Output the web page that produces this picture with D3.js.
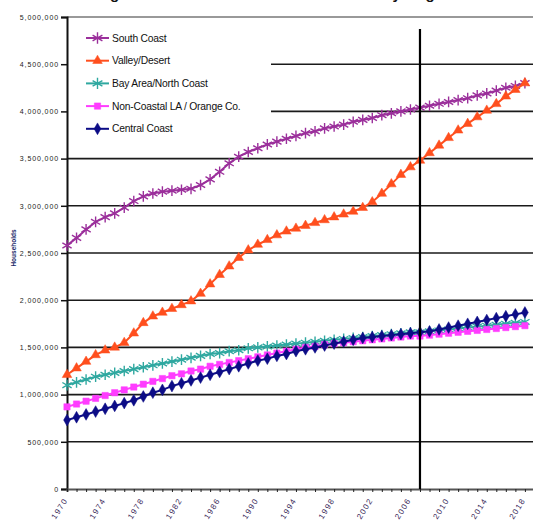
<!DOCTYPE html>
<html>
<head>
<meta charset="utf-8">
<script src="https://cdn.jsdelivr.net/npm/d3@7"></script>
<style>
  html, body { margin: 0; padding: 0; background: #fff; }
  svg { display: block; font-family: "Liberation Sans", Arial, sans-serif; }
</style>
</head>
<body>
<svg id="chart" width="533" height="526"></svg>
<script>
// Households by region, annual values (millions of households)
const years = d3.range(1970, 2019);

const southCoast = [2.58, 2.66, 2.75, 2.83, 2.88, 2.92, 2.98, 3.05, 3.10, 3.13,
  3.15, 3.16, 3.17, 3.18, 3.22, 3.28, 3.36, 3.45, 3.52, 3.57,
  3.61, 3.65, 3.68, 3.71, 3.74, 3.77, 3.79, 3.82, 3.84, 3.86,
  3.89, 3.91, 3.93, 3.96, 3.98, 4.00, 4.02, 4.04, 4.06, 4.08,
  4.10, 4.12, 4.14, 4.17, 4.19, 4.22, 4.25, 4.27, 4.30];

const valleyDesert = [1.21, 1.28, 1.35, 1.42, 1.47, 1.50, 1.55, 1.65, 1.76, 1.83,
  1.87, 1.91, 1.95, 1.99, 2.07, 2.17, 2.27, 2.36, 2.45, 2.53,
  2.59, 2.64, 2.69, 2.73, 2.76, 2.79, 2.82, 2.85, 2.88, 2.91,
  2.94, 2.98, 3.04, 3.13, 3.23, 3.33, 3.41, 3.48, 3.56, 3.64,
  3.72, 3.80, 3.87, 3.94, 4.01, 4.08, 4.16, 4.23, 4.30];

const bayArea = [1.10, 1.13, 1.16, 1.19, 1.21, 1.23, 1.25, 1.27, 1.29, 1.31,
  1.33, 1.35, 1.37, 1.39, 1.41, 1.43, 1.44, 1.46, 1.47, 1.49,
  1.50, 1.51, 1.52, 1.53, 1.54, 1.55, 1.56, 1.57, 1.58, 1.59,
  1.60, 1.61, 1.62, 1.63, 1.64, 1.65, 1.66, 1.66, 1.67, 1.68,
  1.69, 1.70, 1.71, 1.72, 1.73, 1.74, 1.75, 1.76, 1.77];

const nonCoastal = [0.87, 0.90, 0.93, 0.96, 0.99, 1.02, 1.05, 1.08, 1.11, 1.14,
  1.17, 1.20, 1.22, 1.25, 1.27, 1.30, 1.32, 1.34, 1.36, 1.38,
  1.40, 1.42, 1.44, 1.46, 1.48, 1.50, 1.51, 1.53, 1.54, 1.55,
  1.56, 1.57, 1.58, 1.59, 1.60, 1.61, 1.62, 1.62, 1.63, 1.64,
  1.65, 1.66, 1.67, 1.68, 1.69, 1.70, 1.71, 1.72, 1.73];

const centralCoast = [0.73, 0.76, 0.79, 0.82, 0.85, 0.88, 0.91, 0.94, 0.98, 1.02,
  1.05, 1.09, 1.12, 1.15, 1.18, 1.21, 1.24, 1.27, 1.30, 1.33,
  1.36, 1.38, 1.41, 1.43, 1.46, 1.48, 1.50, 1.52, 1.54, 1.56,
  1.58, 1.60, 1.61, 1.62, 1.63, 1.64, 1.65, 1.66, 1.67, 1.69,
  1.71, 1.73, 1.75, 1.77, 1.79, 1.81, 1.83, 1.85, 1.87];

const seriesNames = ["South Coast", "Valley/Desert", "Bay Area/North Coast",
  "Non-Coastal LA / Orange Co.", "Central Coast"];
const seriesValues = [southCoast, valleyDesert, bayArea, nonCoastal, centralCoast];
const seriesColors = ["#9b2f9b", "#ff4f1e", "#2fa8a0", "#ff3cff", "#0c0c86"];
const seriesSymbols = [d3.symbolAsterisk, d3.symbolTriangle, d3.symbolAsterisk, d3.symbolSquare, d3.symbolDiamond];

const yTicks = d3.range(0, 5000001, 500000);
const xLabelYears = d3.range(1970, 2019, 4);
const markerYear = 2007;

const svg = d3.select("#chart");
const plotLeft = 67, plotTop = 17, plotBottom = 489;

const x = d3.scaleLinear().domain([1970, 2020]).range([plotLeft, plotLeft + 50 * 9.54]);
const y = d3.scaleLinear().domain([0, 5000000]).range([plotBottom, plotTop]);

// Title (runs off the top edge)
svg.append("text")
  .attr("x", 96).attr("y", -1)
  .attr("textLength", 362).attr("lengthAdjust", "spacing")
  .attr("font-size", 15).attr("font-weight", "bold").attr("fill", "#111")
  .text("Figure 1: Total Number of Households by Region");

// Horizontal gridlines
svg.append("g").selectAll("line").data(yTicks.filter(d => d > 0)).join("line")
  .attr("x1", plotLeft).attr("x2", 533)
  .attr("y1", d => y(d)).attr("y2", d => y(d))
  .attr("stroke", d => d === 5000000 ? "#777" : "#1a1a1a")
  .attr("stroke-width", 1.6);

// Legend background
svg.append("rect")
  .attr("x", plotLeft + 1).attr("y", 20).attr("width", 203).attr("height", 123)
  .attr("fill", "#fff");

// Y axis
const yAxis = svg.append("g").attr("transform", `translate(${plotLeft},0)`)
  .call(d3.axisLeft(y).tickValues(yTicks).tickSize(6).tickPadding(2)
    .tickFormat(d3.format(",")));
yAxis.select(".domain").attr("stroke", "#111").attr("stroke-width", 2);
yAxis.selectAll(".tick line").attr("stroke", "#111").attr("stroke-width", 1.5);
yAxis.selectAll(".tick text")
  .attr("font-size", 7).attr("letter-spacing", 0.9).attr("fill", "#222")
  .attr("font-family", "Liberation Sans, Arial, sans-serif");

svg.append("text")
  .attr("transform", "translate(16,248) rotate(-90)")
  .attr("text-anchor", "middle").attr("font-size", 6.5).attr("font-weight", "bold")
  .attr("fill", "#1a2a6a")
  .text("Households");

// X axis
const xAxis = svg.append("g").attr("transform", `translate(0,${plotBottom})`)
  .call(d3.axisBottom(x).tickValues(d3.range(1970, 2021)).tickSize(3).tickFormat(""));
xAxis.select(".domain").attr("stroke", "#555").attr("stroke-width", 2);
xAxis.selectAll(".tick line").attr("stroke", "#222").attr("stroke-width", 1);

svg.append("g").selectAll("text").data(xLabelYears).join("text")
  .attr("transform", d => `translate(${x(d) + 1},${plotBottom + 11}) rotate(-58)`)
  .attr("text-anchor", "end")
  .attr("font-size", 8).attr("letter-spacing", 1.4).attr("fill", "#3a2a5a")
  .text(d => d);

// Series lines and markers
const line = d3.line().x((d, i) => x(years[i])).y(d => y(d * 1e6));

seriesValues.forEach((vals, s) => {
  const g = svg.append("g");
  g.append("path").datum(vals)
    .attr("d", line).attr("fill", "none")
    .attr("stroke", seriesColors[s]).attr("stroke-width", 2);
  const isStroke = seriesSymbols[s] === d3.symbolAsterisk;
  g.selectAll("path.m").data(vals).join("path").attr("class", "m")
    .attr("transform", (d, i) => `translate(${x(years[i])},${y(d * 1e6)})`)
    .attr("d", d3.symbol(seriesSymbols[s], isStroke ? 80 : 40))
    .attr("fill", isStroke ? "none" : seriesColors[s])
    .attr("stroke", seriesColors[s]).attr("stroke-width", isStroke ? 1.4 : 0.5);
});

// Vertical reference line
svg.append("line")
  .attr("x1", x(markerYear)).attr("x2", x(markerYear))
  .attr("y1", 29).attr("y2", plotBottom)
  .attr("stroke", "#000").attr("stroke-width", 2.2);

// Legend entries
const legend = svg.append("g");
seriesNames.forEach((name, s) => {
  const ly = 38 + s * 22.7;
  legend.append("line").attr("x1", 86).attr("x2", 109).attr("y1", ly).attr("y2", ly)
    .attr("stroke", seriesColors[s]).attr("stroke-width", 2);
  const isStroke = seriesSymbols[s] === d3.symbolAsterisk;
  legend.append("path").attr("transform", `translate(97.5,${ly})`)
    .attr("d", d3.symbol(seriesSymbols[s], isStroke ? 90 : 40))
    .attr("fill", isStroke ? "none" : seriesColors[s])
    .attr("stroke", seriesColors[s]).attr("stroke-width", isStroke ? 1.4 : 0.5);
  legend.append("text").attr("x", 112).attr("y", ly + 3.5)
    .attr("font-size", 10.3).attr("letter-spacing", -0.2).attr("fill", "#111")
    .text(name);
});
</script>
</body>
</html>
